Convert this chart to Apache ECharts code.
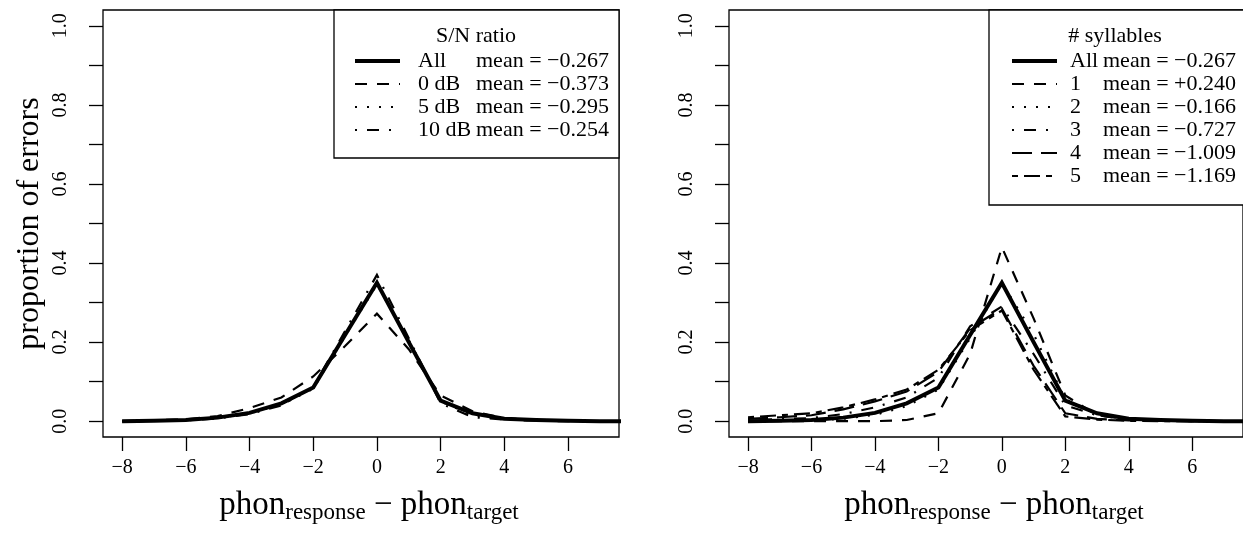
<!DOCTYPE html>
<html>
<head>
<meta charset="utf-8">
<script src="https://cdn.jsdelivr.net/npm/echarts@6/dist/echarts.min.js"></script>
<style>
  html, body { margin: 0; padding: 0; background: #fff; }
  #chart { width: 1243px; height: 536px; }
</style>
</head>
<body>
<div id="chart"></div>
<script>
// Phoneme-count difference (response minus target) and the share of errors at each value
const xVals = [-8, -7, -6, -5, -4, -3, -2, -1, 0, 1, 2, 3, 4, 5, 6, 7, 8];

// Pooled over everything (same curve in both panels)
const allVals = [0.000, 0.001, 0.003, 0.009, 0.021, 0.045, 0.085, 0.218, 0.350, 0.200, 0.052, 0.020, 0.006, 0.003, 0.001, 0.000, 0.000];

// By signal-to-noise ratio
const sn0dB  = [0.000, 0.002, 0.005, 0.013, 0.033, 0.060, 0.113, 0.190, 0.272, 0.182, 0.065, 0.025, 0.008, 0.003, 0.001, 0.000, 0.000];
const sn5dB  = [0.000, 0.001, 0.003, 0.008, 0.020, 0.042, 0.082, 0.215, 0.346, 0.205, 0.050, 0.015, 0.005, 0.002, 0.001, 0.000, 0.000];
const sn10dB = [0.000, 0.001, 0.002, 0.007, 0.018, 0.040, 0.086, 0.228, 0.370, 0.210, 0.045, 0.010, 0.004, 0.001, 0.000, 0.000, 0.000];

// By number of syllables in the target
const syl1 = [0.000, 0.000, 0.000, 0.000, 0.000, 0.003, 0.020, 0.170, 0.440, 0.260, 0.065, 0.015, 0.004, 0.001, 0.000, 0.000, 0.000];
const syl2 = [0.000, 0.001, 0.002, 0.006, 0.016, 0.038, 0.080, 0.210, 0.350, 0.220, 0.055, 0.020, 0.006, 0.003, 0.001, 0.000, 0.000];
const syl3 = [0.003, 0.005, 0.008, 0.018, 0.035, 0.060, 0.110, 0.240, 0.290, 0.170, 0.040, 0.015, 0.005, 0.002, 0.001, 0.000, 0.000];
const syl4 = [0.006, 0.010, 0.015, 0.030, 0.050, 0.075, 0.125, 0.235, 0.285, 0.140, 0.020, 0.006, 0.002, 0.001, 0.000, 0.000, 0.000];
const syl5 = [0.010, 0.015, 0.020, 0.035, 0.055, 0.080, 0.130, 0.230, 0.280, 0.130, 0.012, 0.004, 0.001, 0.000, 0.000, 0.000, 0.000];

// Legend labels and means
const snNames = ['All', '0 dB', '5 dB', '10 dB'];
const snMeans = ['\u22120.267', '\u22120.373', '\u22120.295', '\u22120.254'];
const sylNames = ['All', '1', '2', '3', '4', '5'];
const sylMeans = ['\u22120.267', '+0.240', '\u22120.166', '\u22120.727', '\u22121.009', '\u22121.169'];

// Axis ticks
const xTicks = [-8, -6, -4, -2, 0, 2, 4, 6];
const yTicks = [0, 0.1, 0.2, 0.3, 0.4, 0.5, 0.6, 0.7, 0.8, 0.9, 1.0];
const yLabels = [0, 0.2, 0.4, 0.6, 0.8, 1.0];

const FONT = '"Liberation Serif", "DejaVu Serif", serif';
const BLACK = '#000';
const LEG_FS = 22;

// R-like line types
const LTY = {
  solid: 'solid',
  dashed: [12, 10],
  dotted: [2, 10],
  dotdash: [2, 10, 12, 10],
  longdash: [20, 9],
  twodash: [6, 6, 16, 6]
};

function pairs(vals) { return xVals.map((x, i) => [x, vals[i]]); }

function lineSeries(name, vals, lty, width, idx) {
  return {
    type: 'line', name: name, data: pairs(vals),
    xAxisIndex: idx, yAxisIndex: idx,
    symbol: 'none', silent: true, animation: false,
    lineStyle: { color: BLACK, width: width, type: LTY[lty], cap: 'butt', join: 'miter' },
    itemStyle: { color: BLACK }
  };
}

const minus = v => String(v).replace('-', '\u2212');

function xAxisFor(idx) {
  return {
    type: 'value', gridIndex: idx, min: -8.6, max: 7.6,
    axisLine: { show: false, onZero: false },
    axisTick: { show: true, length: 14, customValues: xTicks, lineStyle: { color: BLACK, width: 1.3 } },
    axisLabel: { customValues: xTicks, formatter: minus, color: BLACK, fontFamily: FONT, fontSize: 20, margin: 21 },
    splitLine: { show: false },
    name: '{m|phon}{s|response}{m| \u2212 phon}{s|target}',
    nameLocation: 'middle', nameGap: 49,
    nameTextStyle: {
      color: BLACK, fontFamily: FONT, padding: [0, 0, 0, 16],
      rich: {
        m: { fontFamily: FONT, fontSize: 33, color: BLACK, lineHeight: 38 },
        s: { fontFamily: FONT, fontSize: 23, color: BLACK, lineHeight: 20, verticalAlign: 'bottom' }
      }
    }
  };
}

function yAxisFor(idx, withName) {
  const ax = {
    type: 'value', gridIndex: idx, min: -0.04, max: 1.04,
    axisLine: { show: false, onZero: false },
    axisTick: { show: true, length: 14, customValues: yTicks, lineStyle: { color: BLACK, width: 1.3 } },
    axisLabel: { customValues: yLabels, rotate: 90, formatter: v => v.toFixed(1), color: BLACK, fontFamily: FONT, fontSize: 20, margin: 32 },
    splitLine: { show: false }
  };
  if (withName) {
    ax.name = 'proportion of errors';
    ax.nameLocation = 'middle';
    ax.nameRotate = 90;
    ax.nameGap = 57;
    ax.nameTextStyle = { color: BLACK, fontFamily: FONT, fontSize: 32 };
  }
  return ax;
}

// Vertical legend boxed like an R legend; a spacer token sets the gap after the line sample
function legendFor(names, means, widths, labWidth, gap, left, padding) {
  const rich = {
    g: { width: gap, lineHeight: 20 },
    a: { fontFamily: FONT, fontSize: LEG_FS, color: BLACK, width: labWidth, lineHeight: 20 },
    b: { fontFamily: FONT, fontSize: LEG_FS, color: BLACK, width: 136, lineHeight: 20 }
  };
  return {
    show: true, orient: 'vertical', left: left, top: 10, z: 3,
    padding: padding, itemGap: 1, itemWidth: 45, itemHeight: 20,
    borderColor: BLACK, borderWidth: 1.3, backgroundColor: '#fff',
    selectedMode: false,
    itemStyle: { opacity: 0 },
    data: names.map((n, i) => ({ name: n, lineStyle: { width: widths[i] } })),
    textStyle: { fontFamily: FONT, fontSize: LEG_FS, color: BLACK, rich: rich, lineHeight: 20 },
    formatter: name => {
      const i = names.indexOf(name);
      return '{g|}{a|' + name + '}{b|mean = ' + means[i] + '}';
    }
  };
}

const chart = echarts.init(document.getElementById('chart'), null, { renderer: 'canvas' });

const option = {
  backgroundColor: '#fff',
  animation: false,
  grid: [
    { left: 103, top: 10, width: 516, height: 427, show: true, borderColor: BLACK, borderWidth: 1.3, backgroundColor: 'transparent' },
    { left: 729, top: 10, width: 516, height: 427, show: true, borderColor: BLACK, borderWidth: 1.3, backgroundColor: 'transparent' }
  ],
  xAxis: [xAxisFor(0), xAxisFor(1)],
  yAxis: [yAxisFor(0, true), yAxisFor(1, false)],
  legend: [
    legendFor(snNames, snMeans, [4, 2.2, 2.2, 2.2], 58, 13, 334, [40, 7, 17, 19]),
    legendFor(sylNames, sylMeans, [4, 2.2, 2.2, 2.2, 2.2, 2.2], 33, 8, 989, [40, 12, 18, 21])
  ],
  graphic: [
    { type: 'text', z: 100, x: 476, y: 36, silent: true, style: { text: 'S/N ratio', font: LEG_FS + 'px ' + FONT, fill: BLACK, align: 'center', verticalAlign: 'middle' } },
    { type: 'text', z: 100, x: 1115, y: 36, silent: true, style: { text: '# syllables', font: LEG_FS + 'px ' + FONT, fill: BLACK, align: 'center', verticalAlign: 'middle' } }
  ],
  series: [
    lineSeries('All', allVals, 'solid', 4, 0),
    lineSeries('0 dB', sn0dB, 'dashed', 2.2, 0),
    lineSeries('5 dB', sn5dB, 'dotted', 2.2, 0),
    lineSeries('10 dB', sn10dB, 'dotdash', 2.2, 0),
    lineSeries('All', allVals, 'solid', 4, 1),
    lineSeries('1', syl1, 'dashed', 2.2, 1),
    lineSeries('2', syl2, 'dotted', 2.2, 1),
    lineSeries('3', syl3, 'dotdash', 2.2, 1),
    lineSeries('4', syl4, 'longdash', 2.2, 1),
    lineSeries('5', syl5, 'twodash', 2.2, 1)
  ]
};
chart.setOption(option);
</script>
</body>
</html>
